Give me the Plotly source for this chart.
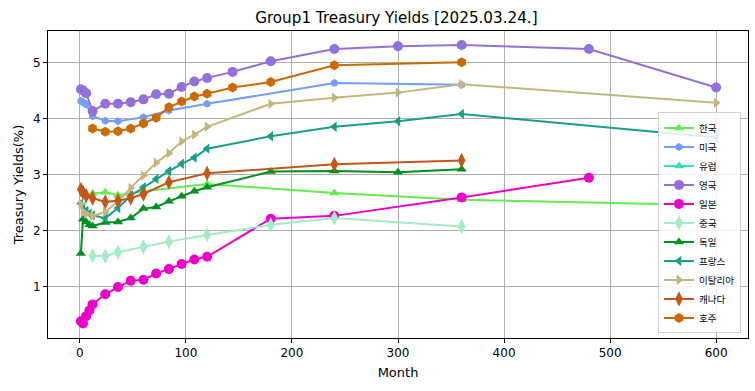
import plotly.graph_objects as go

# ---- data (months to maturity, yields %) ----
kr_x = [12, 24, 36, 60, 120, 240, 360, 600]
kr_y = [2.66, 2.68, 2.63, 2.70, 2.83, 2.67, 2.55, 2.45]

us_x = [1, 2, 3, 4, 6, 12, 24, 36, 60, 84, 120, 240, 360]
us_y = [4.31, 4.30, 4.29, 4.28, 4.25, 4.04, 3.96, 3.95, 4.02, 4.14, 4.26, 4.63, 4.60]

eu_x = [None]
eu_y = [None]

uk_x = [1, 3, 6, 12, 24, 36, 48, 60, 72, 84, 96, 108, 120, 144, 180, 240, 300, 360, 480, 600]
uk_y = [4.52, 4.50, 4.45, 4.13, 4.26, 4.26, 4.29, 4.34, 4.43, 4.44, 4.56, 4.66, 4.72, 4.83,
        5.02, 5.24, 5.29, 5.31, 5.24, 4.55]

jp_x = [1, 3, 6, 9, 12, 24, 36, 48, 60, 72, 84, 96, 108, 120, 180, 240, 360, 480]
jp_y = [0.38, 0.34, 0.47, 0.57, 0.68, 0.86, 0.99, 1.10, 1.12, 1.23, 1.31, 1.40, 1.48, 1.53,
        2.21, 2.26, 2.59, 2.94]

cn_x = [12, 24, 36, 60, 84, 120, 180, 240, 360]
cn_y = [1.55, 1.54, 1.61, 1.71, 1.80, 1.92, 2.10, 2.22, 2.07]

de_x = [1, 3, 6, 9, 12, 24, 36, 48, 60, 72, 84, 96, 108, 120, 180, 240, 300, 360]
de_y = [1.59, 2.20, 2.15, 2.10, 2.08, 2.14, 2.15, 2.22, 2.39, 2.42, 2.52, 2.61, 2.70, 2.77,
        3.05, 3.06, 3.04, 3.09]

fr_x = [1, 3, 6, 9, 12, 24, 36, 48, 60, 72, 84, 96, 108, 120, 180, 240, 300, 360, 600]
fr_y = [2.48, 2.42, 2.35, 2.30, 2.27, 2.22, 2.40, 2.62, 2.77, 2.92, 3.06, 3.19, 3.30, 3.46,
        3.68, 3.85, 3.95, 4.08, 3.66]

it_x = [1, 3, 6, 12, 24, 36, 48, 60, 72, 84, 96, 108, 120, 180, 240, 300, 360, 600]
it_y = [2.47, 2.33, 2.30, 2.26, 2.33, 2.52, 2.76, 2.98, 3.21, 3.38, 3.59, 3.71, 3.85,
        4.26, 4.37, 4.46, 4.61, 4.28]

ca_x = [1, 3, 6, 12, 24, 36, 48, 60, 84, 120, 240, 360]
ca_y = [2.73, 2.68, 2.62, 2.58, 2.51, 2.53, 2.58, 2.65, 2.86, 3.02, 3.18, 3.25]

au_x = [12, 24, 36, 48, 60, 72, 84, 96, 108, 120, 144, 180, 240, 360]
au_y = [3.82, 3.76, 3.77, 3.82, 3.91, 4.01, 4.20, 4.30, 4.39, 4.44, 4.55, 4.65, 4.95, 5.00]

x_ticks = [0, 100, 200, 300, 400, 500, 600]
y_ticks = [1, 2, 3, 4, 5]

series = [
    ("한국", kr_x, kr_y, "#62EE4E", "triangle-up", 9),
    ("미국", us_x, us_y, "#729FFF", "hexagon", 8),
    ("유럽", eu_x, eu_y, "#33E3B9", "triangle-up", 9),
    ("영국", uk_x, uk_y, "#9370DB", "circle", 10),
    ("일본", jp_x, jp_y, "#EE00CC", "circle", 10),
    ("중국", cn_x, cn_y, "#A2EDC2", "diamond-tall", 11),
    ("독일", de_x, de_y, "#00901E", "triangle-up", 9),
    ("프랑스", fr_x, fr_y, "#1A9E8C", "triangle-left", 9),
    ("이탈리아", it_x, it_y, "#C4B67C", "triangle-right", 9),
    ("캐나다", ca_x, ca_y, "#C4561A", "diamond-tall", 11),
    ("호주", au_x, au_y, "#CC6A00", "hexagon", 10),
]

fig = go.Figure()
for name, xs, ys, col, sym, sz in series:
    fig.add_trace(go.Scatter(
        x=xs, y=ys, name=name, mode="lines+markers", showlegend=True,
        line=dict(color=col, width=2),
        marker=dict(symbol=sym, size=sz, color=col, line=dict(width=0)),
    ))

font_main = "DejaVu Sans, Noto Sans CJK KR, sans-serif"
fig.update_layout(
    width=755, height=391,
    margin=dict(l=48, r=7, t=31, b=53, autoexpand=False),
    paper_bgcolor="white", plot_bgcolor="white",
    font=dict(family=font_main, size=12, color="black"),
    title=dict(text="Group1 Treasury Yields [2025.03.24.]", x=0.525, xanchor="center",
               y=0.955, yanchor="middle", font=dict(size=15.2)),
    showlegend=True,
    legend=dict(x=0.99, xanchor="right", y=0.015, yanchor="bottom",
                bgcolor="rgba(255,255,255,0.85)", bordercolor="#d0d0d0", borderwidth=1,
                font=dict(size=9.5, family="Noto Sans CJK KR, DejaVu Sans"),
                tracegroupgap=0, itemwidth=30),
)
fig.update_xaxes(
    range=[-30, 630], tickvals=x_ticks, ticktext=[str(v) for v in x_ticks],
    showgrid=True, gridcolor="#b0b0b0", gridwidth=1, automargin=False,
    showline=True, linecolor="black", linewidth=1, mirror=True,
    ticks="outside", ticklen=4, tickcolor="black", zeroline=False,
    title=dict(text="Month", font=dict(size=13), standoff=8),
    tickfont=dict(size=12),
)
fig.update_yaxes(
    range=[0.08, 5.56], tickvals=y_ticks, ticktext=[str(v) for v in y_ticks],
    showgrid=True, gridcolor="#b0b0b0", gridwidth=1, automargin=False,
    showline=True, linecolor="black", linewidth=1, mirror=True,
    ticks="outside", ticklen=4, tickcolor="black", zeroline=False,
    title=dict(text="Treasury Yields(%)", font=dict(size=13), standoff=6),
    tickfont=dict(size=12),
)

fig.write_html("out.html", config={"responsive": False, "displayModeBar": False},
               post_script="document.body.style.margin='0px';document.body.style.overflow='hidden';")
